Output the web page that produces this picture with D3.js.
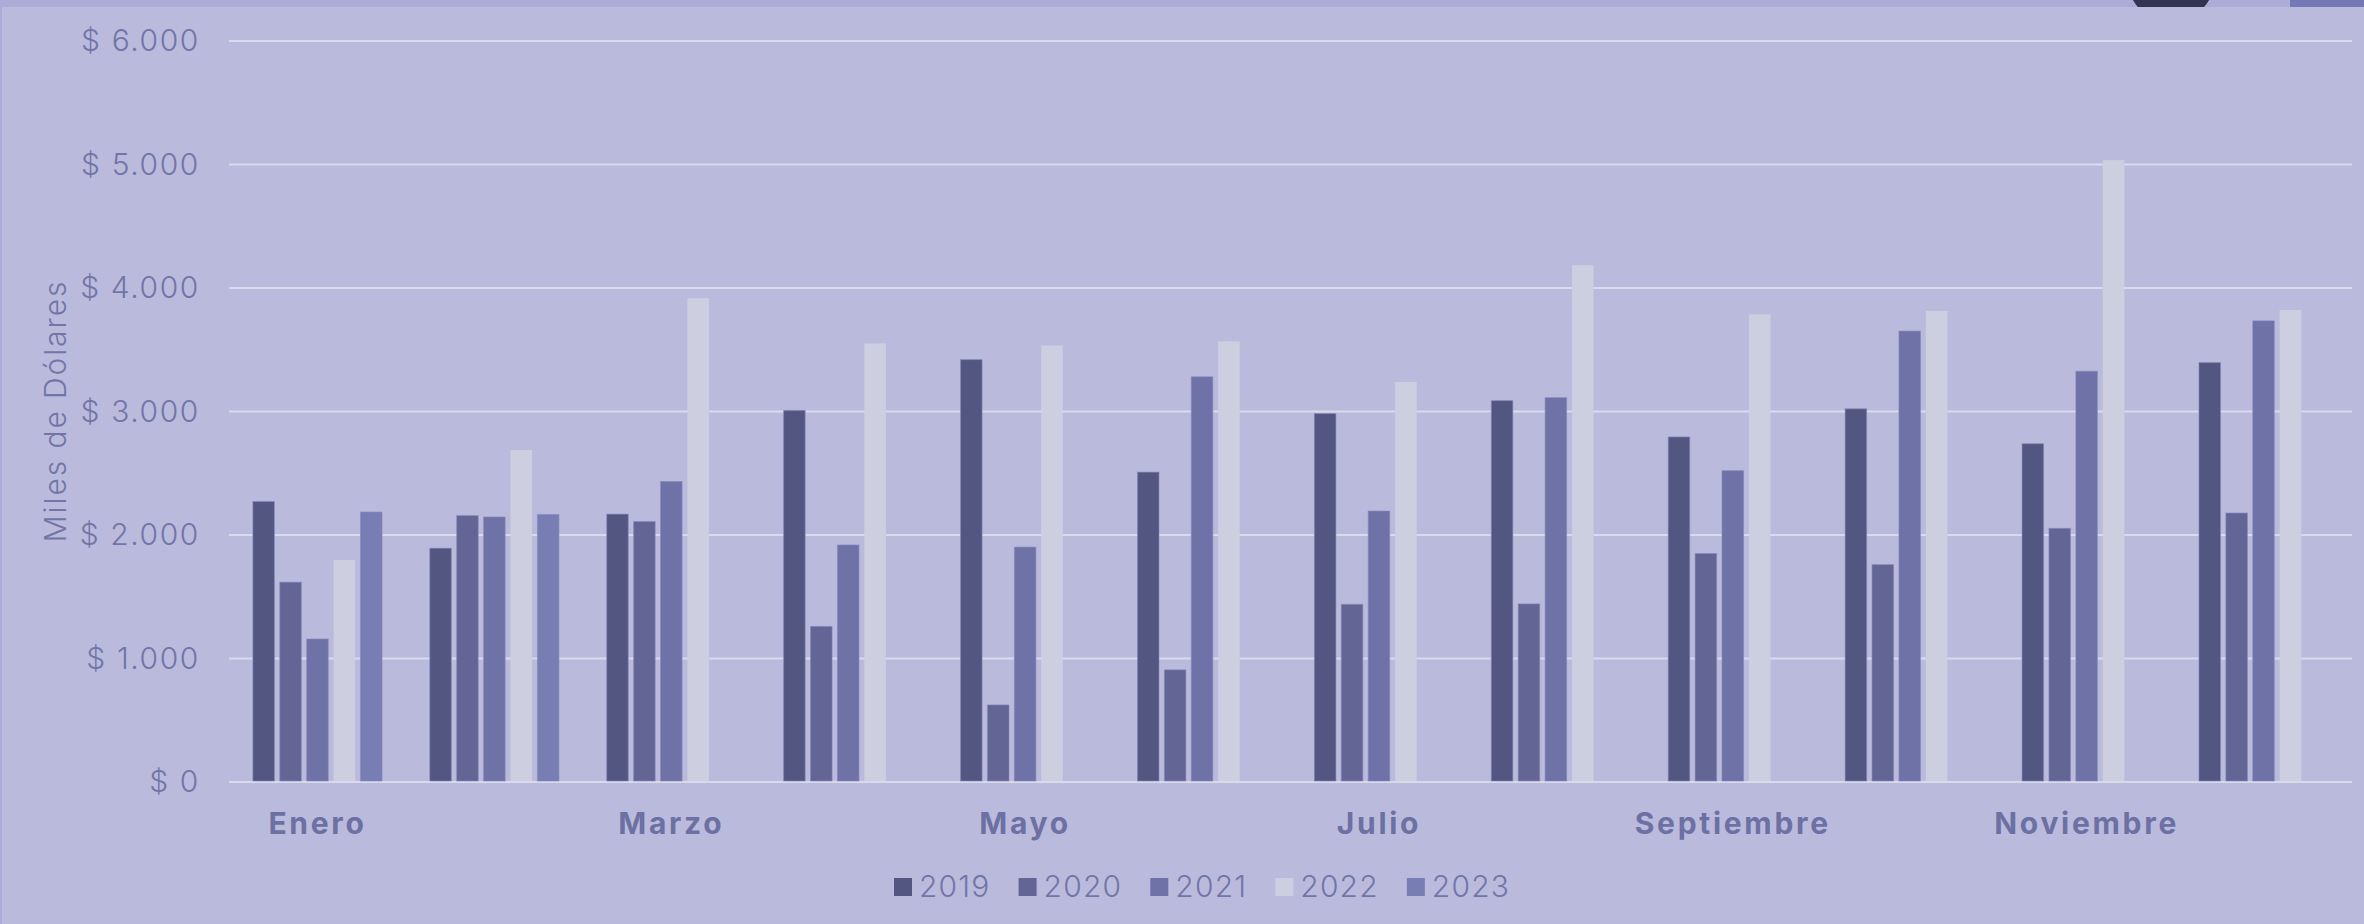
<!DOCTYPE html>
<html>
<head>
<meta charset="utf-8">
<script src="https://cdn.jsdelivr.net/npm/d3@7"></script>
<style>
  html, body { margin: 0; padding: 0; background: #babbdc; overflow: hidden; }
  svg { display: block; }
</style>
</head>
<body>
<svg id="chart" width="2364" height="924"></svg>
<script>
const months = ["Enero", "Febrero", "Marzo", "Abril", "Mayo", "Junio", "Julio", "Agosto", "Septiembre", "Octubre", "Noviembre", "Diciembre"];
const years = ["2019", "2020", "2021", "2022", "2023"];
const values2019 = [2271, 1893, 2169, 3009, 3420, 2509, 2983, 3088, 2794, 3022, 2739, 3396];
const values2020 = [1618, 2157, 2109, 1260, 624, 908, 1439, 1442, 1850, 1760, 2054, 2178];
const values2021 = [1158, 2146, 2433, 1919, 1902, 3281, 2194, 3112, 2521, 3651, 3326, 3734];
const values2022 = [1797, 2688, 3917, 3551, 3534, 3568, 3239, 4184, 3786, 3814, 5035, 3821];
const values2023 = [2186, 2166, null, null, null, null, null, null, null, null, null, null];
const yTicks = [0, 1000, 2000, 3000, 4000, 5000, 6000];
const yTitle = "Miles de Dólares";

const seriesValues = [values2019, values2020, values2021, values2022, values2023];
const colors = ["#535680", "#636594", "#6e72a6", "#cdcfe0", "#787db4"];

const W = 2364, H = 924;
const plot = { left: 229, right: 2352, top: 41, bottom: 782 };
const svg = d3.select("#chart");
const FONT = "Inter, 'Open Sans', sans-serif";

// background
svg.append("rect").attr("width", W).attr("height", H).attr("fill", "#babbdc");
// left border strip
svg.append("rect").attr("x", 0).attr("y", 0).attr("width", 2).attr("height", H).attr("fill", "#a9abd9");
// top strip (cropped dashboard header)
svg.append("rect").attr("x", 0).attr("y", 0).attr("width", W).attr("height", 7).attr("fill", "#abacd8");
svg.append("clipPath").attr("id", "topclip").append("rect").attr("x", 0).attr("y", 0).attr("width", W).attr("height", 7);
svg.append("circle").attr("cx", 2171).attr("cy", -22).attr("r", 44).attr("fill", "#33344f").attr("clip-path", "url(#topclip)");
svg.append("rect").attr("x", 2290).attr("y", 0).attr("width", 74).attr("height", 7).attr("fill", "#7479b6");

const x0 = d3.scaleBand().domain(months).range([plot.left, plot.right]).paddingInner(0.27).paddingOuter(0.135);
const x1 = d3.scaleBand().domain(years).range([0, x0.bandwidth()]).paddingInner(0.2).paddingOuter(0);
const y = d3.scaleLinear().domain([0, 6000]).range([plot.bottom, plot.top]);

const fmt = v => "$ " + d3.format(",")(v).replace(/,/g, ".");

// y labels via axis
const yAxis = d3.axisLeft(y).tickValues(yTicks).tickFormat(fmt).tickSize(0).tickPadding(29);
const gy = svg.append("g").attr("transform", `translate(${plot.left},0)`).call(yAxis);
gy.select(".domain").remove();
gy.selectAll("text")
  .attr("fill", "#7175a8")
  .attr("font-family", FONT)
  .attr("font-weight", 300)
  .attr("font-size", 30)
  .attr("letter-spacing", 1.6);

// gridlines
svg.append("g").selectAll("line").data(yTicks).join("line")
  .attr("x1", plot.left).attr("x2", plot.right)
  .attr("y1", d => y(d)).attr("y2", d => y(d))
  .attr("stroke", "#d9daec").attr("stroke-width", 2);

// bars
const data = [];
months.forEach((m, i) => {
  years.forEach((yr, j) => {
    const v = seriesValues[j][i];
    if (v != null) data.push({ month: m, year: yr, value: v, color: colors[j] });
  });
});

svg.append("g").selectAll("rect").data(data).join("rect")
  .attr("x", d => x0(d.month) + x1(d.year))
  .attr("y", d => y(d.value))
  .attr("width", x1.bandwidth())
  .attr("height", d => y(0) - y(d.value) - 1)
  .attr("fill", d => d.color)
  .attr("stroke", d => d.year === "2022" ? "none" : "#8487bb")
  .attr("stroke-opacity", 0.6)
  .attr("stroke-width", 1);

// x labels (every other month)
const xAxis = d3.axisBottom(x0).tickValues(months.filter((m, i) => i % 2 === 0)).tickSize(0).tickPadding(0);
const gx = svg.append("g").attr("transform", `translate(0,${plot.bottom})`).call(xAxis);
gx.select(".domain").remove();
gx.selectAll("text")
  .attr("y", 52)
  .attr("dy", 0)
  .attr("fill", "#6c70a3")
  .attr("font-family", FONT)
  .attr("font-weight", 700)
  .attr("font-size", 30)
  .attr("letter-spacing", 2.7);

// y title
svg.append("text")
  .attr("transform", `translate(66,411) rotate(-90)`)
  .attr("text-anchor", "middle")
  .attr("fill", "#7175a8")
  .attr("font-family", FONT)
  .attr("font-weight", 300)
  .attr("font-size", 30)
  .attr("letter-spacing", 1.9)
  .text(yTitle);

// legend
const legend = svg.append("g");
let lx = 894;
years.forEach((yr, j) => {
  legend.append("rect").attr("x", lx).attr("y", 878).attr("width", 18).attr("height", 18).attr("fill", colors[j]);
  const t = legend.append("text").attr("x", lx + 25).attr("y", 897)
    .attr("fill", "#7175a8").attr("font-family", FONT).attr("font-weight", 300).attr("font-size", 30)
    .attr("letter-spacing", 1.2)
    .text(yr);
  const w = t.node().getComputedTextLength();
  lx += 25 + w + 28;
});
</script>
</body>
</html>
